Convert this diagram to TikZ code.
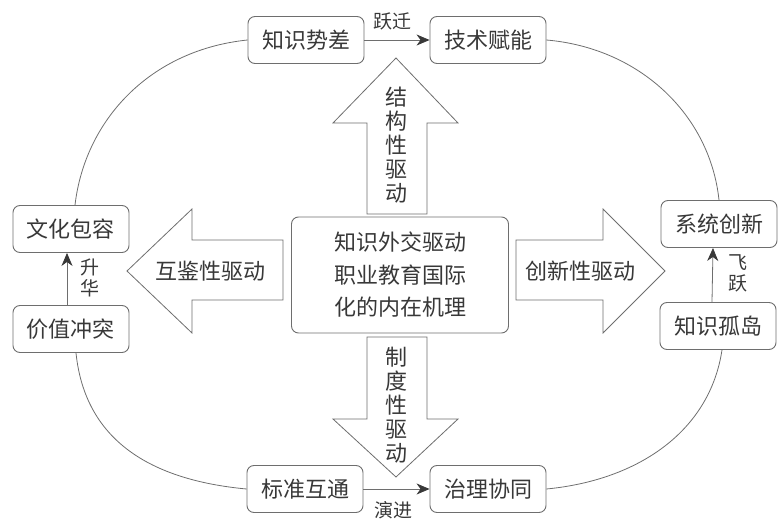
\documentclass[tikz,border=0pt]{standalone}
\usepackage{fontspec}
\setmainfont{Noto Sans CJK SC}
\usetikzlibrary{arrows.meta}
\definecolor{linegray}{HTML}{6E6E6E}
\definecolor{textgray}{HTML}{383838}
\tikzset{
  box/.style={draw=linegray, line width=0.9pt, rounded corners=7pt,
    minimum width=116pt, minimum height=47pt, inner sep=0pt,
    text=textgray, font=\fontsize{22}{26}\selectfont},
  link/.style={draw=linegray, line width=0.8pt},
  jump/.style={link, -{Stealth[length=13pt,width=11pt,inset=4pt,color=textgray]}},
  bigarrow/.style={draw=linegray, line width=0.8pt, fill=white},
  lbl/.style={inner sep=0pt, align=center, text=textgray,
    font=\fontsize{19}{21}\selectfont},
  drive/.style={inner sep=0pt, align=center, text=textgray,
    font=\fontsize{22}{24}\selectfont}
}
\begin{document}
\begin{tikzpicture}[x=1pt, y=-1pt]
  \useasboundingbox (0,0) rectangle (780,522);
% big arrows
  \draw [bigarrow] (367,214) -- (367,123) -- (333,123) -- (396,58) -- (458,123) -- (427,123) -- (427,214) -- cycle;
  \draw [bigarrow] (367,337) -- (367,419) -- (333,419) -- (396,477) -- (458,419) -- (427,419) -- (427,337) -- cycle;
  \draw [bigarrow] (283,240) -- (192,240) -- (192,209) -- (127,271) -- (192,333) -- (192,300) -- (283,300) -- cycle;
  \draw [bigarrow] (516,240) -- (603,240) -- (603,209) -- (665,271) -- (603,333) -- (603,300) -- (516,300) -- cycle;

  \node [drive] (jgx) at (396,145) {结\\构\\性\\驱\\动};
  \node [drive] (zdx) at (396,405) {制\\度\\性\\驱\\动};
  \node [drive] (hjx) at (210,271) {互鉴性驱动};
  \node [drive] (cxx) at (580,271) {创新性驱动};

% center
  \node [box, minimum width=217pt, minimum height=116pt, font=\fontsize{22}{32.5}\selectfont, align=center] (core) at (400,275)
    {知识外交驱动\\职业教育国际\\化的内在机理};

% boxes
  \node [box] (zsc) at (306,40) {知识势差};
  \node [box] (jsfn) at (488,40) {技术赋能};
  \node [box] (whbr) at (71,229) {文化包容};
  \node [box] (jzct) at (71,329) {价值冲突};
  \node [box] (xtcx) at (719,224) {系统创新};
  \node [box] (zsgd) at (718,326) {知识孤岛};
  \node [box] (bzht) at (305,489) {标准互通};
  \node [box] (zlxt) at (488,489) {治理协同};

% jumps
  \draw [jump] (zsc.east) -- (jsfn.west);
  \draw [jump] (bzht.east) -- (zlxt.west);
  \draw [jump] ([xshift=-4pt]jzct.north) -- ([xshift=-4pt]whbr.south);
  \draw [jump] ([xshift=-6pt]zsgd.north) -- ([xshift=-6pt]xtcx.south);

  \node [lbl] (yq) at (392,21) {跃迁};
  \node [lbl] (yj) at (393,510) {演进};
  \node [lbl] (sh) at (90,278) {升\\华};
  \node [lbl] (fy) at (738,273) {飞\\跃};

% loop
  \draw [link] (zsc.west) .. controls (150,50) and (85,120) .. ([xshift=4pt]whbr.north);
  \draw [link] ([xshift=5pt]jzct.south) .. controls (85,440) and (150,480) .. (bzht.west);
  \draw [link] (jsfn.east) .. controls (640,48) and (710,115) .. (xtcx.north);
  \draw [link] ([xshift=4pt]zsgd.south) .. controls (710,430) and (640,480) .. (zlxt.east);
\end{tikzpicture}
\end{document}
